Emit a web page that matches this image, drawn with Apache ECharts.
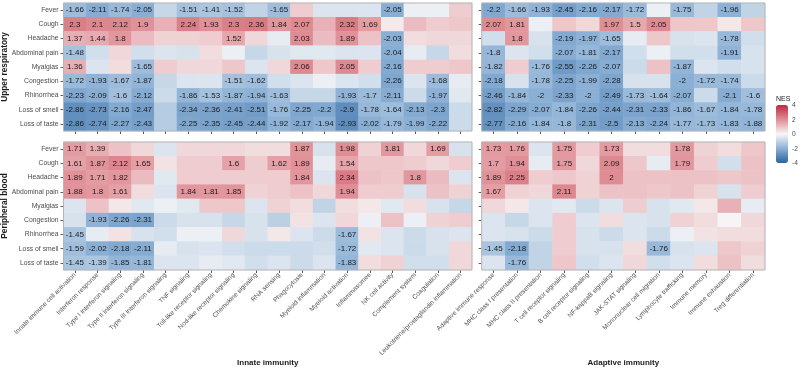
<!DOCTYPE html>
<html><head><meta charset="utf-8">
<script src="https://cdn.jsdelivr.net/npm/echarts@6/dist/echarts.min.js"></script>
<style>html,body{margin:0;padding:0;background:#fff}#c{width:800px;height:369px}</style>
</head><body><div id="c"></div>
<script>
const rows = ['Fever','Cough','Headache','Abdominal pain','Myalgias','Congestion','Rhinorrhea','Loss of smell','Loss of taste'];
const innateCols = ['Innate immune cell activation','Interferon response','Type I interferon signaling','Type II interferon signaling','Type III interferon signaling','TNF signaling','Toll-like receptor signaling','Nod-like receptor signaling','Chemokine signaling','RNA sensing','Phagocytosis','Myeloid inflammation','Myeloid activation','Inflammasomes','NK cell activity','Complement system','Coagulation','Leukotriene/prostaglandin inflammation'];
const adaptiveCols = ['Adaptive immune response','MHC class I presentation','MHC class II presentation','T cell receptor signaling','B cell receptor signaling','NF-kappaB signaling','JAK-STAT signaling','Mononuclear cell migration','Lymphocyte trafficking','Immune memory','Immune exhaustion','Treg differentiation'];
const tissues = ['Upper respiratory','Peripheral blood'];
const groups = ['Innate immunity','Adaptive immunity'];
const legendTicks = [4,2,0,-2,-4];

const upperInnate = [
 [-1.66,-2.11,-1.74,-2.05,-0.9,-1.51,-1.41,-1.52,-1.0,-1.65,0.8,-0.5,-0.5,-0.5,-2.05,-0.2,-0.2,0.8],
 [2.3,2.1,2.12,1.9,1.3,2.24,1.93,2.3,2.36,1.84,2.07,1.3,2.32,1.69,0.25,1.1,0.8,0.9],
 [1.37,1.44,1.8,1.1,0.7,0.7,0.8,1.52,0.6,-0.3,2.03,1.1,1.89,1.0,-2.03,0.5,0.6,0.6],
 [-1.48,-0.7,0.6,-0.7,-0.5,-0.6,0.5,-0.2,-0.9,-0.6,-0.4,-0.4,-0.5,-0.5,-2.04,-0.3,-0.9,0.5],
 [1.36,-0.5,0.5,-1.65,0.8,0.6,0.6,0.9,-0.5,0.6,2.06,0.9,2.05,0.8,-2.16,0.8,0.8,0.9],
 [-1.72,-1.93,-1.67,-1.87,-0.9,-0.5,-0.5,-1.51,-1.62,-0.7,-0.5,-0.2,-0.5,-0.7,-2.26,-0.5,-1.68,-0.3],
 [-2.23,-2.09,-1.6,-2.12,-0.8,-1.86,-1.53,-1.87,-1.94,-1.63,-0.9,-0.9,-1.93,-1.7,-2.11,-0.8,-1.97,-0.4],
 [-2.86,-2.73,-2.16,-2.47,-1.2,-2.34,-2.36,-2.41,-2.51,-1.76,-2.25,-2.2,-2.9,-1.78,-1.64,-2.13,-2.3,-0.8],
 [-2.86,-2.74,-2.27,-2.43,-1.2,-2.25,-2.35,-2.45,-2.44,-1.92,-2.17,-1.94,-2.93,-2.02,-1.79,-1.99,-2.22,-0.8]
];
const upperAdaptive = [
 [-2.2,-1.66,-1.93,-2.45,-2.16,-2.17,-1.72,-0.2,-1.75,-1.0,-1.96,-1.0],
 [2.07,1.81,-0.2,0.9,0.6,1.97,1.5,2.05,0.9,0.9,0.3,0.9],
 [-0.7,1.8,-0.6,-2.19,-1.97,-1.65,-0.3,0.9,-0.6,-0.5,-1.78,-0.7],
 [-1.8,-0.5,-0.7,-2.07,-1.81,-2.17,-0.7,-0.2,-0.7,-0.7,-1.91,-0.6],
 [-1.82,0.8,-1.76,-2.55,-2.26,-2.07,-0.8,1.0,-1.87,-0.5,-0.7,-0.6],
 [-2.18,-0.6,-1.78,-2.25,-1.99,-2.28,-0.6,-0.6,-2,-1.72,-1.74,-0.8],
 [-2.46,-1.84,-2,-2.33,-2,-2.49,-1.73,-1.64,-2.07,-0.8,-2.1,-1.6],
 [-2.82,-2.29,-2.07,-1.84,-2.26,-2.44,-2.31,-2.33,-1.86,-1.67,-1.84,-1.78],
 [-2.77,-2.16,-1.84,-1.8,-2.31,-2.5,-2.13,-2.24,-1.77,-1.73,-1.83,-1.88]
];
const lowerInnate = [
 [1.71,1.39,1.0,0.6,-0.5,0.6,0.6,0.6,0.5,0.5,1.87,-0.6,1.98,0.7,1.81,0.6,1.69,-0.6],
 [1.61,1.87,2.12,1.65,0.4,0.8,0.8,1.6,0.8,1.62,1.89,-0.3,1.54,0.9,0.9,0.8,0.6,0.8],
 [1.89,1.71,1.82,1.1,-0.4,0.8,0.8,0.8,0.8,0.8,1.84,-0.5,2.34,1.0,0.9,1.8,1.1,-0.5],
 [1.88,1.8,1.61,0.5,-0.5,1.84,1.81,1.85,0.7,0.8,1.0,0.6,1.94,0.8,0.8,-0.6,1.0,0.7],
 [-0.5,1.0,0.3,-0.4,-0.2,-0.4,0.9,0.9,-0.5,0.7,0.5,-1.0,0.5,0.3,-0.4,0.5,-0.6,-0.9],
 [-0.6,-1.93,-2.26,-2.31,-0.8,-0.6,-0.6,-0.9,-0.6,-1.1,0.4,-0.5,0.6,-0.2,1.0,-0.2,0.7,0.8],
 [-1.45,-0.3,0.4,-0.6,-0.7,-0.2,-0.2,0.6,-0.6,0.3,-0.5,-0.8,-1.67,0.4,-0.5,-0.8,-0.6,-0.5],
 [-1.59,-2.02,-2.18,-2.11,-0.3,-0.6,-0.5,-0.7,-0.8,-0.8,-0.8,-0.7,-1.72,-0.4,-0.5,-0.8,-0.6,0.6],
 [-1.45,-1.39,-1.85,-1.81,-0.5,-0.5,-0.3,-0.4,-0.7,-0.5,-0.8,-0.5,-1.83,0.5,0.7,-0.7,-0.7,0.6]
];
const lowerAdaptive = [
 [1.73,1.76,-0.5,1.75,0.8,1.73,0.5,0.5,1.78,0.7,0.5,0.9],
 [1.7,1.94,-0.3,1.75,0.6,2.09,0.9,-0.3,1.79,0.8,-0.7,1.0],
 [1.89,2.25,0.8,0.9,0.7,2,1.0,1.0,1.0,1.0,0.9,1.0],
 [1.67,0.7,0.6,2.11,0.7,1.0,1.0,0.9,1.0,0.7,-0.6,0.8],
 [0.6,0.3,-0.5,-0.4,-0.8,-0.5,0.8,-0.6,-0.4,0.3,1.3,-0.3],
 [-0.5,-0.9,-0.5,0.8,-0.5,0.5,-0.5,-0.6,0.7,0.5,0.05,0.6],
 [-0.5,-0.6,-0.8,0.8,-0.6,-0.8,-0.5,-0.8,-0.2,0.4,0.5,0.5],
 [-1.45,-2.18,-1.0,0.8,-0.6,-0.6,0.5,-1.76,-0.6,-0.5,0.9,0.7],
 [-0.5,-1.76,-1.0,0.9,-0.7,-0.5,0.6,-0.7,-0.5,0.5,1.0,0.5]
];

const FONT = '"Liberation Sans", Arial, Helvetica, sans-serif';
const toData = m => { const d=[]; m.forEach((r,ri)=>r.forEach((v,ci)=>d.push([ci,ri,v]))); return d; };

const L1 = 63.5, W1 = 408.5, L2 = 481.7, W2 = 283.3, T1 = 3, T2 = 142, H = 128;
const grids = [
  {left:L1, top:T1, width:W1, height:H},
  {left:L2, top:T1, width:W2, height:H},
  {left:L1, top:T2, width:W1, height:H},
  {left:L2, top:T2, width:W2, height:H}
].map(g => Object.assign(g, {show:true, z:5, borderColor:'#b5b5b5', borderWidth:1, backgroundColor:'transparent', containLabel:false, outerBoundsMode:'none'}));

const tick = {show:true, length:3, alignWithLabel:true, lineStyle:{color:'#333', width:0.8}};
const xAxes = [0,1,2,3].map(i => {
  const cols = (i%2===0) ? innateCols : adaptiveCols;
  const lower = i>=2;
  return {
    type:'category', gridIndex:i, data:cols, position:'bottom',
    axisLine:{show:false}, axisTick:tick, splitLine:{show:false},
    axisLabel:{show:lower, interval:0, rotate:45, fontSize:6.5, color:'#4d4d4d', fontFamily:FONT, margin:4, hideOverlap:false},
    name: lower ? groups[i%2] : '', nameLocation:'middle', nameGap:89, nameMoveOverlap:false,
    nameTextStyle:{fontSize:8, fontWeight:'bold', color:'#1a1a1a', fontFamily:FONT}
  };
});
const yAxes = [0,1,2,3].map(i => {
  const left = i%2===0;
  return {
    type:'category', gridIndex:i, data:rows, inverse:true,
    axisLine:{show:false}, axisTick:tick, splitLine:{show:false},
    axisLabel:{show:left, fontSize:6.8, color:'#4d4d4d', fontFamily:FONT, margin:5},
    name: left ? tissues[i<2?0:1] : '', nameLocation:'middle', nameRotate:90, nameGap:55, nameMoveOverlap:false,
    nameTextStyle:{fontSize:8.3, fontWeight:'bold', color:'#1a1a1a', fontFamily:FONT}
  };
});
const mats = [upperInnate, upperAdaptive, lowerInnate, lowerAdaptive];
const series = mats.map((m,i) => ({
  type:'heatmap', xAxisIndex:i, yAxisIndex:i, data:toData(m),
  itemStyle:{borderWidth:0},
  label:{show:true, fontSize:8, color:'#1a1a1a', fontFamily:FONT,
    formatter: p => Math.abs(p.value[2]) >= 1.35 ? String(p.value[2]) : ''},
  emphasis:{disabled:true}
}));

const chart = echarts.init(document.getElementById('c'), null, {renderer:'canvas'});
chart.setOption({
  animation:false,
  grid:grids, xAxis:xAxes, yAxis:yAxes, series:series,
  visualMap:{type:'continuous', min:-4, max:4, calculable:false, orient:'vertical',
    left:776, top:105, itemWidth:12, itemHeight:58, padding:0, text:null, showLabel:false,
    seriesIndex:[0,1,2,3],
    inRange:{color:['#2a639f','#8bb0d5','#f7f7f7','#e08c94','#b92c3e']}},
  graphic:[
    {type:'text', left:776, top:96, style:{text:'NES', font:'7px '+FONT, fill:'#1a1a1a'}}
  ].concat(legendTicks.map((t,k)=>({type:'text', left:792, top:102+k*14.5,
    style:{text:String(t), font:'6.6px '+FONT, fill:'#4d4d4d'}})))
});
</script></body></html>
